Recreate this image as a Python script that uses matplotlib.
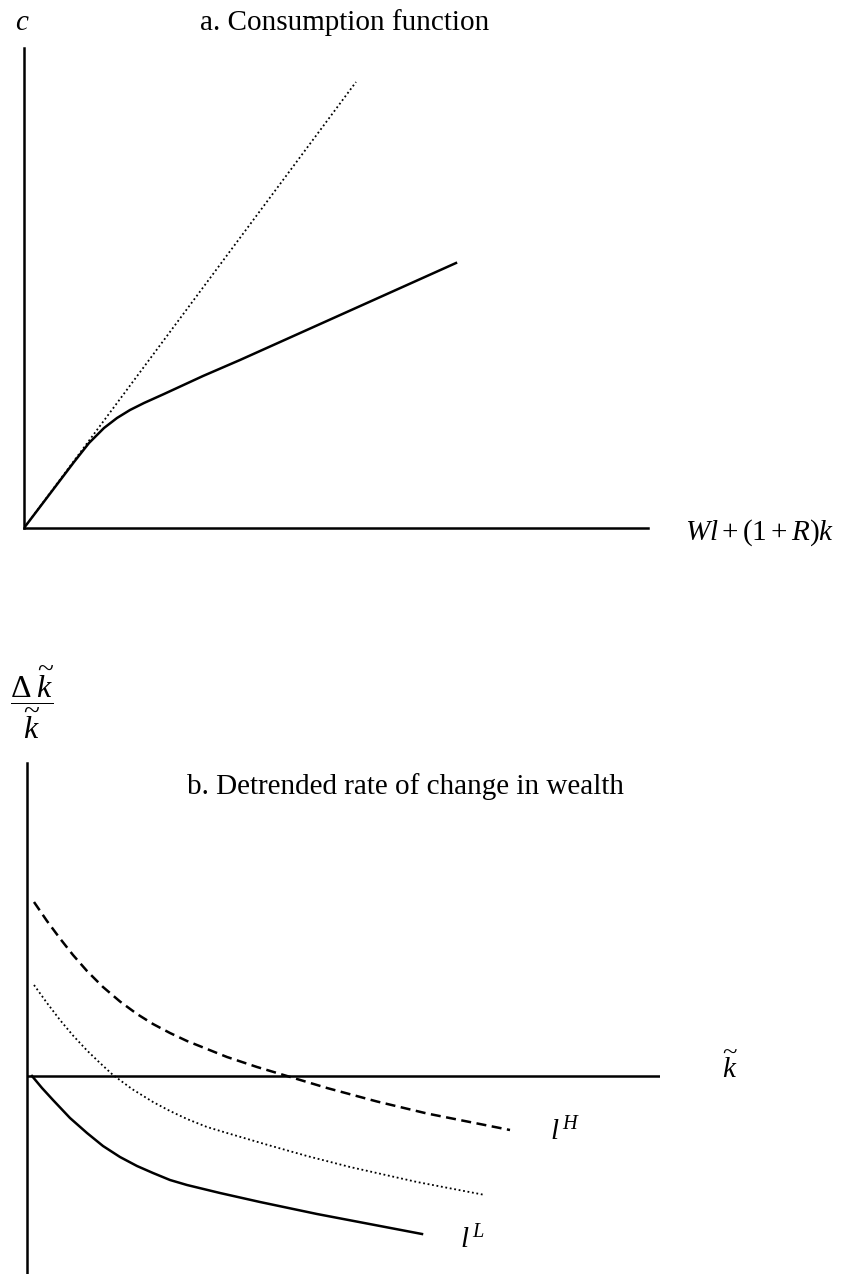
import matplotlib
matplotlib.use("Agg")
import matplotlib.pyplot as plt

plt.rcParams['font.family'] = ['Liberation Serif', 'DejaVu Serif']
plt.rcParams['mathtext.fontset'] = 'custom'
plt.rcParams['mathtext.rm'] = 'Liberation Serif'
plt.rcParams['mathtext.it'] = 'Liberation Serif:italic'
plt.rcParams['mathtext.bf'] = 'Liberation Serif:bold'

# panel a: consumption against cash on hand
wealth_45 = [0.0, 3.32]
cons_45 = [0.0, 4.46]
wealth = [0.0, 0.50, 0.65, 0.80, 0.93, 1.06, 1.20, 1.40, 1.79, 2.16, 4.32]
cons = [0.0, 0.66, 0.85, 1.00, 1.10, 1.18, 1.25, 1.34, 1.52, 1.68, 2.65]

# panel b: detrended growth of wealth for high / mid / low labour income
k_high = [0.07, 0.20, 0.33, 0.46, 0.60, 0.76, 0.93, 1.10, 1.26, 1.43,
          1.60, 1.80, 2.00, 2.30, 2.60, 3.00, 3.50, 4.00, 4.83]
g_high = [1.74, 1.55, 1.375, 1.21, 1.05, 0.89, 0.745, 0.62, 0.52, 0.43,
          0.35, 0.27, 0.19, 0.09, 0.0, -0.12, -0.255, -0.375, -0.54]
k_mid = [0.07, 0.20, 0.33, 0.46, 0.60, 0.73, 0.86, 1.05, 1.26, 1.43,
         1.60, 1.80, 2.00, 2.41, 2.80, 3.23, 3.90, 4.58]
g_mid = [0.91, 0.73, 0.56, 0.405, 0.255, 0.13, 0.01, -0.13, -0.26, -0.35,
         -0.43, -0.51, -0.57, -0.69, -0.80, -0.91, -1.06, -1.19]
k_low = [0.05, 0.15, 0.26, 0.43, 0.60, 0.76, 0.93, 1.10, 1.26, 1.43,
         1.60, 1.93, 2.33, 2.90, 3.95]
g_low = [0.0, -0.12, -0.24, -0.42, -0.57, -0.70, -0.81, -0.90, -0.97, -1.04,
         -1.09, -1.17, -1.26, -1.38, -1.58]

W, H = 850, 1274
fig = plt.figure(figsize=(W / 100, H / 100), dpi=100)


def put(x, y, s, **kw):
    fig.text(x / W, 1 - y / H, s, **kw)


lw = 1.8

# --- panel a ---
ax1 = fig.add_axes([24 / W, 1 - 528 / H, 624 / W, 480 / H])
ax1.plot(wealth_45, cons_45, color='black', lw=1.3, ls=(0, (1, 1.5)))
ax1.plot(wealth, cons, color='black', lw=lw, solid_joinstyle='round')
ax1.set_xlim(0, 6.24)
ax1.set_ylim(0, 4.80)
for side in ['top', 'right']:
    ax1.spines[side].set_visible(False)
for side in ['left', 'bottom']:
    ax1.spines[side].set_linewidth(lw)
ax1.set_xticks([])
ax1.set_yticks([])

put(22, 23, r'$c$', fontsize=21, ha='center', va='center')
put(200, 23, 'a. Consumption function', fontsize=21, ha='left', va='center')
put(685, 533, r'$Wl+(1+R)k$', fontsize=21, ha='left', va='center')

# --- panel b ---
ax2 = fig.add_axes([27 / W, 0, 633 / W, 511 / H])
ax2.axhline(0, color='black', lw=lw)
ax2.plot(k_high, g_high, color='black', lw=lw, ls=(0, (4, 2.2)))
ax2.plot(k_mid, g_mid, color='black', lw=1.3, ls=(0, (1, 1.5)))
ax2.plot(k_low, g_low, color='black', lw=lw, solid_joinstyle='round')
ax2.set_xlim(0, 6.33)
ax2.set_ylim(-1.98, 3.13)
for side in ['top', 'right', 'bottom']:
    ax2.spines[side].set_visible(False)
ax2.spines['left'].set_linewidth(lw)
ax2.set_xticks([])
ax2.set_yticks([])

put(32, 703, r'$\dfrac{\Delta\;\widetilde{k}}{\widetilde{k}}$', fontsize=23,
    ha='center', va='center')
put(187, 787, 'b. Detrended rate of change in wealth', fontsize=21,
    ha='left', va='center')
put(730, 1068, r'$\widetilde{k}$', fontsize=21, ha='center', va='center')
put(550, 1132, r'$l^{\,H}$', fontsize=21, ha='left', va='center')
put(460, 1240, r'$l^{\,L}$', fontsize=21, ha='left', va='center')

fig.savefig('out.png', dpi=100, facecolor='white')
